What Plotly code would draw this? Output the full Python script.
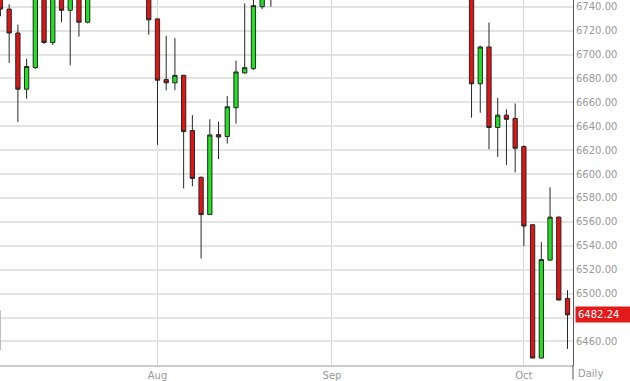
import plotly.graph_objects as go

dates = [
    "2014-07-08", "2014-07-09", "2014-07-10", "2014-07-11",
    "2014-07-14", "2014-07-15", "2014-07-16", "2014-07-17", "2014-07-18",
    "2014-07-21", "2014-07-22", "2014-07-23", "2014-07-24", "2014-07-25",
    "2014-07-28", "2014-07-29", "2014-07-30", "2014-07-31", "2014-08-01",
    "2014-08-04", "2014-08-05", "2014-08-06", "2014-08-07", "2014-08-08",
    "2014-08-11", "2014-08-12", "2014-08-13", "2014-08-14", "2014-08-15",
    "2014-08-18", "2014-08-19", "2014-08-20", "2014-08-21", "2014-08-22",
    "2014-08-26", "2014-08-27", "2014-08-28", "2014-08-29",
    "2014-09-01", "2014-09-02", "2014-09-03", "2014-09-04", "2014-09-05",
    "2014-09-08", "2014-09-09", "2014-09-10", "2014-09-11", "2014-09-12",
    "2014-09-15", "2014-09-16", "2014-09-17", "2014-09-18", "2014-09-19",
    "2014-09-22", "2014-09-23", "2014-09-24", "2014-09-25", "2014-09-26",
    "2014-09-29", "2014-09-30", "2014-10-01", "2014-10-02", "2014-10-03",
    "2014-10-06", "2014-10-07", "2014-10-08",
]

opens = [
    6823, 6738, 6718, 6671,
    6689, 6755, 6710, 6785, 6737,
    6750, 6727, 6795, 6798, 6821,
    6791, 6788, 6807, 6773, 6729.8,
    6679, 6676.3, 6682.6, 6636.4, 6597.3,
    6566.1, 6633, 6631.4, 6655.5, 6684.6,
    6688.2, 6740, 6779, 6756, 6777,
    6775, 6822, 6830, 6805,
    6819, 6825, 6829, 6873, 6877,
    6855, 6834, 6829, 6830, 6799,
    6806, 6804, 6792, 6780, 6819,
    6837, 6773, 6675.5, 6706.3, 6638.9,
    6649.3, 6646.6, 6623.1, 6557.6, 6446.1,
    6528, 6564, 6496,
]

highs = [
    6825, 6742, 6725, 6696.5,
    6762, 6770, 6790, 6790, 6755,
    6752, 6800, 6805, 6830, 6822,
    6800, 6810, 6810, 6778, 6730,
    6715.7, 6713.7, 6683, 6649.3, 6598,
    6645.8, 6643.8, 6665.2, 6694.9, 6742.8,
    6750, 6785, 6785, 6790, 6790,
    6830, 6840, 6832, 6825,
    6830, 6840, 6880, 6890, 6880,
    6860, 6840, 6835, 6832, 6815,
    6810, 6806, 6800, 6825, 6850,
    6840, 6775, 6707.3, 6726.7, 6663.8,
    6654.1, 6659.1, 6624, 6558, 6543.2,
    6588.9, 6564.5, 6502.9,
]

lows = [
    6732, 6693, 6643.5, 6663,
    6688, 6709, 6708, 6727, 6691,
    6715, 6726, 6785, 6790, 6780,
    6770, 6780, 6760, 6716.5, 6624.4,
    6670, 6670.2, 6588, 6589.8, 6529.3,
    6566, 6612.5, 6625.5, 6642.2, 6684,
    6687, 6738, 6740, 6750, 6760,
    6775, 6815, 6790, 6800,
    6810, 6815, 6825, 6860, 6840,
    6820, 6815, 6810, 6790, 6795,
    6790, 6775, 6770, 6778, 6810,
    6765, 6647.2, 6651.3, 6620.8, 6614.4,
    6607.7, 6601.4, 6539.8, 6446, 6446,
    6527.9, 6494.5, 6453.8,
]

closes = [
    6738, 6718, 6671, 6690,
    6755, 6710, 6785, 6737, 6750,
    6727, 6795, 6798, 6821, 6791,
    6788, 6807, 6773, 6729, 6678.5,
    6676.3, 6682.6, 6635.5, 6596.4, 6566.1,
    6632.7, 6631, 6656.3, 6685.4, 6689,
    6740.9, 6779, 6756, 6777, 6775,
    6822, 6830, 6805, 6819,
    6825, 6829, 6873, 6877, 6855,
    6834, 6829, 6830, 6799, 6806,
    6804, 6792, 6780, 6819, 6837,
    6773, 6675.5, 6706.3, 6638.9, 6649.3,
    6645.8, 6621.6, 6556.5, 6446.1, 6528.5,
    6564, 6494.6, 6482.24,
]

month_ticks = ["2014-08-01", "2014-09-01", "2014-10-01"]
month_labels = ["Aug", "Sep", "Oct"]
price_ticks = [6460, 6480, 6500, 6520, 6540, 6560, 6580, 6600,
               6620, 6640, 6660, 6680, 6700, 6720, 6740]
last_price = 6482.24
period_label = "Daily"

FONT = "DejaVu Sans"

# the tick label hidden behind the last-price box in the reference is left blank
price_labels = ["" if abs(v - last_price) < 10 else f"{v:.2f}" for v in price_ticks]

fig = go.Figure(
    go.Candlestick(
        x=dates, open=opens, high=highs, low=lows, close=closes,
        increasing=dict(fillcolor="#22e022", line=dict(color="#262626", width=1)),
        decreasing=dict(fillcolor="#e01414", line=dict(color="#262626", width=1)),
        whiskerwidth=0,
        showlegend=False,
    )
)

fig.update_layout(
    width=630, height=381,
    margin=dict(l=0, r=57, t=0, b=14),
    paper_bgcolor="white", plot_bgcolor="white",
    font=dict(family=FONT, size=10, color="#999999"),
    showlegend=False,
    xaxis=dict(
        type="category",
        range=[-0.05, 65.63],
        rangeslider=dict(visible=False),
        tickmode="array", tickvals=month_ticks, ticktext=month_labels,
        showgrid=True, gridcolor="#d6d6d6", gridwidth=1,
        showline=True, linecolor="#cccccc", linewidth=2,
        ticks="", tickfont=dict(family=FONT, size=10, color="#999999"),
        zeroline=False,
    ),
    yaxis=dict(
        side="right",
        range=[6440.3, 6745.6],
        tickmode="array", tickvals=price_ticks, ticktext=price_labels,
        showgrid=True, gridcolor="#e3e3e3", gridwidth=2,
        showline=True, linecolor="#555555", linewidth=1,
        ticks="", tickfont=dict(family=FONT, size=10, color="#999999"),
        zeroline=False,
    ),
    shapes=[
        dict(type="line", xref="paper", yref="paper", x0=1, x1=1, y0=-0.04, y1=0,
             line=dict(color="#555555", width=1)),
        dict(type="line", xref="paper", yref="y", x0=0.001, x1=0.001, y0=6486, y1=6452.8,
             line=dict(color="#bbbbbb", width=1)),
    ],
    annotations=[
        dict(xref="paper", yref="y", x=1, y=last_price, xanchor="left", yanchor="middle",
             xshift=2, text=f"{last_price:.2f}", showarrow=False,
             bgcolor="#e31b1b", borderpad=2, width=50, align="left",
             font=dict(family=FONT, size=10, color="white")),
        dict(xref="paper", yref="paper", x=1.031, y=-0.0245, xanchor="center", yanchor="middle",
             text=period_label, showarrow=False,
             font=dict(family=FONT, size=10, color="#999999")),
    ],
)

fig.write_html("out.html")
